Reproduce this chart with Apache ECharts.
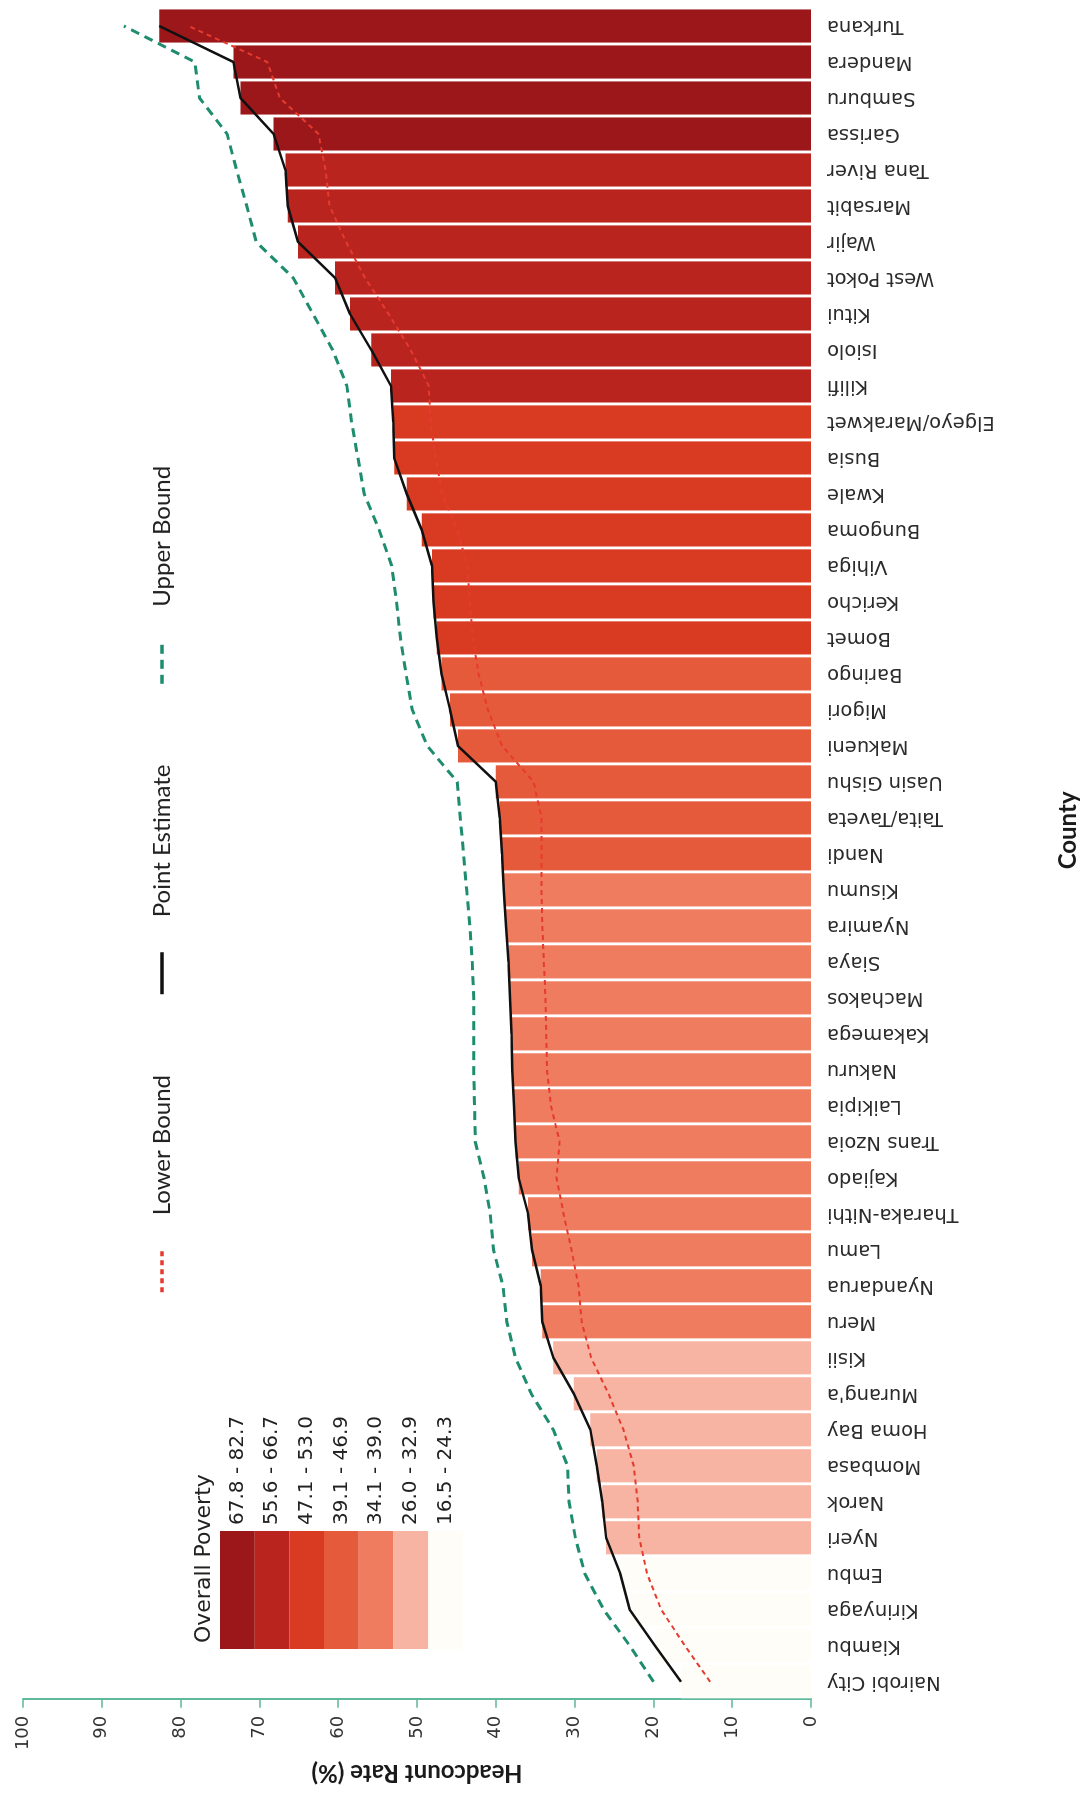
<!DOCTYPE html>
<html>
<head>
<meta charset="utf-8">
<script src="https://cdn.jsdelivr.net/npm/echarts@6/dist/echarts.min.js"></script>
<style>
html,body{margin:0;padding:0;width:1085px;height:1793px;overflow:hidden;background:#fff}
#chart{position:absolute;left:0;top:0;width:1793px;height:1085px;transform-origin:0 0;transform:translateY(1793px) rotate(-90deg);}
</style>
</head>
<body>
<div id="chart"></div>
<script>
const counties = ['Nairobi City','Kiambu','Kirinyaga','Embu','Nyeri','Narok','Mombasa','Homa Bay',"Murang'a",'Kisii','Meru','Nyandarua','Lamu','Tharaka-Nithi','Kajiado','Trans Nzoia','Laikipia','Nakuru','Kakamega','Machakos','Siaya','Nyamira','Kisumu','Nandi','Taita/Taveta','Uasin Gishu','Makueni','Migori','Baringo','Bomet','Kericho','Vihiga','Bungoma','Kwale','Busia','Elgeyo/Marakwet','Kilifi','Isiolo','Kitui','West Pokot','Wajir','Marsabit','Tana River','Garissa','Samburu','Mandera','Turkana'];
const pointEstimate = [16.5,19.8,23.0,24.2,26.0,26.5,27.2,28.0,30.1,32.7,34.1,34.3,35.4,35.9,37.1,37.5,37.7,37.9,38.0,38.2,38.4,38.7,39.0,39.2,39.5,40.0,44.8,45.8,46.9,47.5,47.9,48.1,49.4,51.3,52.9,53.0,53.3,55.8,58.5,60.4,65.1,66.4,66.7,68.2,72.4,73.3,82.7];
const lowerBound = [12.8,16.0,19.0,20.8,21.8,22.0,22.5,23.8,25.7,27.9,29.1,29.5,30.4,31.4,32.3,31.9,33.0,33.5,33.6,33.7,33.9,34.1,34.2,34.2,34.2,35.2,39.2,41.0,42.2,42.9,43.3,43.6,44.9,46.8,47.6,48.3,48.5,50.8,53.6,56.6,59.0,61.1,61.6,62.5,67.4,69.0,79.0];
const upperBound = [20.0,23.0,26.3,28.7,29.9,30.7,30.9,32.7,35.5,37.5,38.6,39.1,40.3,40.7,41.5,42.6,42.7,42.8,42.8,42.8,43.0,43.3,43.7,44.1,44.5,44.9,48.7,50.6,51.4,52.1,52.6,53.2,54.8,56.7,57.5,58.3,58.9,60.7,63.2,65.7,70.4,71.6,72.9,74.1,77.6,78.2,87.2];
// poverty class index per county (0 = highest class), as coloured in the picture
const povertyClass = [6,6,6,6,5,5,5,5,5,5,4,4,4,4,4,4,4,4,4,4,4,4,4,3,3,3,3,3,3,2,2,2,2,2,2,2,1,1,1,1,1,1,1,0,0,0,0];
const classLabels = ['67.8 - 82.7','55.6 - 66.7','47.1 - 53.0','39.1 - 46.9','34.1 - 39.0','26.0 - 32.9','16.5 - 24.3'];
const classColors = ['#9b1719','#b9241f','#d83b22','#e55a3b','#ef7c5f','#f7b4a3','#fefdf7'];

const source = counties.map((c, i) => [c, pointEstimate[i], lowerBound[i], upperBound[i], classLabels[povertyClass[i]]]);

const chart = echarts.init(document.getElementById('chart'));
chart.setOption({
  backgroundColor: '#ffffff',
  animation: false,
  textStyle: { fontFamily: 'DejaVu Sans' },
  dataset: { source: source },
  grid: { left: 90, right: 8, top: 23, bottom: 270, containLabel: false },
  xAxis: {
    type: 'category',
    axisLine: { show: false },
    axisTick: { show: false },
    axisLabel: { rotate: 90, interval: 0, margin: 16, fontSize: 19.5, color: '#2b2b2b', fontFamily: 'DejaVu Sans' },
    name: 'County',
    nameLocation: 'middle',
    nameGap: 245,
    nameTextStyle: { fontFamily: 'Lato', fontWeight: 'bold', fontSize: 24, color: '#1a1a1a', padding: [0, 0, 0, 47] }
  },
  yAxis: {
    type: 'value',
    min: 0, max: 100, interval: 10,
    splitLine: { show: false },
    axisLine: { show: true, lineStyle: { color: '#5db89c', width: 2 } },
    axisTick: { show: true, length: 8, lineStyle: { color: '#5db89c', width: 1.5 } },
    axisLabel: { margin: 16, fontSize: 18, color: '#333333', fontFamily: 'DejaVu Sans' },
    name: 'Headcount Rate (%)',
    nameLocation: 'middle',
    nameGap: 60,
    nameTextStyle: { fontFamily: 'Lato', fontWeight: 'bold', fontSize: 24, color: '#1a1a1a' }
  },
  legend: {
    data: ['Lower Bound', 'Point Estimate', 'Upper Bound'],
    left: 499, top: 150, padding: 0,
    itemWidth: 42, itemHeight: 14, itemGap: 79,
    selectedMode: false,
    itemStyle: { opacity: 0 },
    lineStyle: { width: 3.5 },
    textStyle: { fontFamily: 'Lato', fontSize: 24, color: '#222222', padding: [0, 0, 0, 30] }
  },
  visualMap: {
    type: 'piecewise',
    seriesIndex: 0,
    dimension: 4,
    categories: classLabels,
    inRange: { color: classColors },
    orient: 'vertical',
    left: 144, top: 220,
    itemWidth: 118, itemHeight: 34.7, itemGap: 0,
    itemSymbol: 'rect',
    textGap: 6,
    padding: 0,
    showLabel: true,
    selectedMode: false,
    hoverLink: false,
    textStyle: { fontSize: 20, color: '#222222', fontFamily: 'DejaVu Sans' }
  },
  graphic: [{
    type: 'text', left: 150, top: 193,
    style: { text: 'Overall Poverty', font: '22px "DejaVu Sans"', fill: '#222222' }
  }],
  series: [
    { type: 'bar', name: 'Overall Poverty', encode: { x: 0, y: 1 }, barCategoryGap: '8%', z: 2 },
    { type: 'line', name: 'Lower Bound', encode: { x: 0, y: 2 }, symbol: 'none', z: 3,
      lineStyle: { color: '#e53b2f', width: 2, type: [5, 4] }, itemStyle: { color: '#e53b2f' } },
    { type: 'line', name: 'Point Estimate', encode: { x: 0, y: 1 }, symbol: 'none', z: 4,
      lineStyle: { color: '#111111', width: 2.5 }, itemStyle: { color: '#111111' } },
    { type: 'line', name: 'Upper Bound', encode: { x: 0, y: 3 }, symbol: 'none', z: 3,
      lineStyle: { color: '#1e8c6e', width: 3, type: [9, 6] }, itemStyle: { color: '#1e8c6e' } }
  ]
});
</script>
</body>
</html>
